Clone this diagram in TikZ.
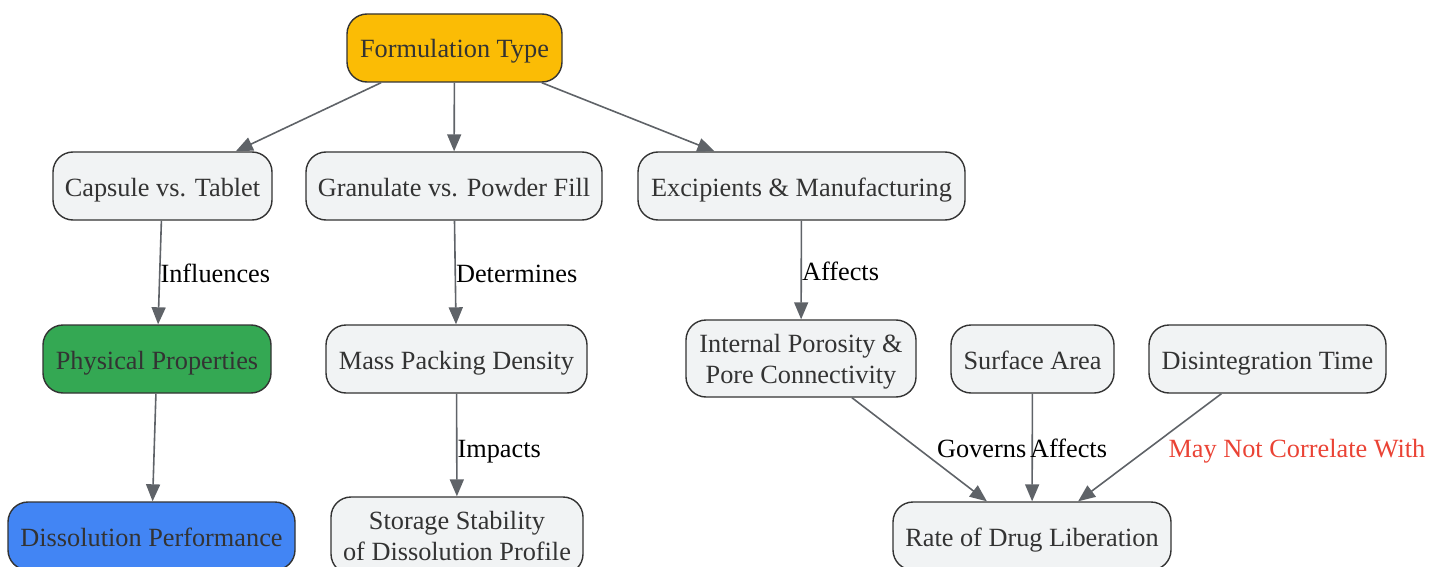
\documentclass[tikz,border=0pt]{standalone}
\usepackage{fontspec}
\setmainfont{Liberation Serif}
\usetikzlibrary{arrows.meta}
\definecolor{nodefill}{HTML}{F1F3F4}
\definecolor{txt}{HTML}{333333}
\definecolor{edgec}{HTML}{5F6368}
\definecolor{gyellow}{HTML}{FBBC05}
\definecolor{ggreen}{HTML}{34A853}
\definecolor{gblue}{HTML}{4285F4}
\definecolor{gred}{HTML}{EA4335}
\begin{document}
\begin{tikzpicture}[x=1pt,y=-1pt,
  boxbase/.style={draw=txt, line width=1.4pt, rounded corners=20pt, fill=nodefill, text=txt,
    font=\fontsize{26.3}{31}\selectfont, align=center, inner sep=0pt, minimum height=68pt},
  box/.style={boxbase, text height=20pt, text depth=0pt},
  twobox/.style={boxbase, text depth=0pt, minimum height=77pt},
  conn/.style={draw=edgec, line width=1.6pt, -{Triangle[length=17pt,width=14pt]}},
  lbl/.style={font=\fontsize{26.3}{31}\selectfont, anchor=west, inner sep=0pt, text=black,
    text height=20pt, text depth=0pt}
]
\useasboundingbox (0,0) rectangle (1443,567);

\node[box, fill=gyellow, minimum width=215pt] (ft) at (454.5,48) {Formulation Type};
\node[box, minimum width=219pt] (cap) at (162.5,186) {Capsule vs. Tablet};
\node[box, minimum width=296pt] (gran) at (454,186) {Granulate vs. Powder Fill};
\node[box, minimum width=327pt] (exc) at (801.5,186) {Excipients \& Manufacturing};
\node[box, fill=ggreen, minimum width=228pt] (phys) at (157,359) {Physical Properties};
\node[box, minimum width=261pt] (mass) at (456.5,359) {Mass Packing Density};
\node[twobox, minimum width=230pt] (intp) at (801,358.5) {Internal Porosity \&\\Pore Connectivity};
\node[box, minimum width=163pt] (surf) at (1032.5,359) {Surface Area};
\node[box, minimum width=237pt] (dis) at (1267.5,359) {Disintegration Time};
\node[box, fill=gblue, minimum width=287pt] (diss) at (151.5,536) {Dissolution Performance};
\node[twobox, minimum width=252pt] (stor) at (457,535.5) {Storage Stability\\of Dissolution Profile};
\node[box, minimum width=278pt] (rate) at (1032,536) {Rate of Drug Liberation};

\draw[conn] (ft) -- (cap);
\draw[conn] (ft) -- (gran);
\draw[conn] (ft) -- (exc);
\draw[conn] (cap) -- node[lbl] (l1) {Influences} (phys);
\draw[conn] (gran) -- node[lbl] (l2) {Determines} (mass);
\draw[conn] (exc) -- node[lbl] (l3) {Affects} (intp);
\draw[conn] (phys) -- (diss);
\draw[conn] (mass) -- node[lbl, yshift=-2pt] (l4) {Impacts} (stor);
\draw[conn] (intp) -- node[lbl, xshift=17pt, yshift=2pt] (l5) {Governs} (rate);
\draw[conn] (surf) -- node[lbl, xshift=-3pt] (l6) {Affects} (rate);
\draw[conn] (dis) -- node[lbl, xshift=18pt] (l7) {\textcolor{gred}{May Not Correlate With}} (rate);
\end{tikzpicture}
\end{document}
